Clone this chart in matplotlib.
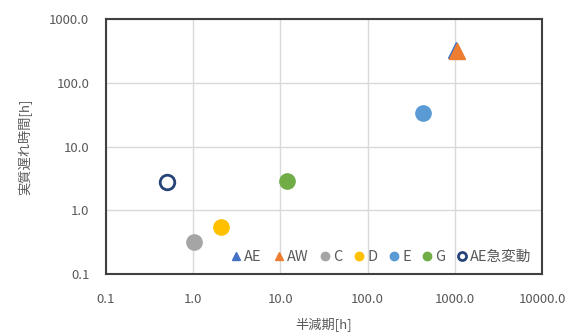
import matplotlib.pyplot as plt
import matplotlib.ticker as mticker
import numpy as np

plt.rcParams['font.family'] = ['Noto Sans CJK JP', 'DejaVu Sans']

# 半減期[h] と 実質遅れ時間[h]
names = ['AE', 'AW', 'C', 'D', 'E', 'G', 'AE急変動']
half_life = [1040.0, 1060.0, 1.02, 2.08, 430.0, 11.9, 0.5]
delay = [330.0, 320.0, 0.32, 0.55, 33.5, 2.9, 2.77]
colors = ['#4472C4', '#ED7D31', '#A5A5A5', '#FFC000', '#5B9BD5', '#70AD47', '#264478']
markers = ['^', '^', 'o', 'o', 'o', 'o', 'o']

fig = plt.figure(figsize=(5.71, 3.36), dpi=100)
ax = fig.add_axes([106/571, 1-274/336, 436/571, 255/336])

for i in range(len(names)):
    if names[i] == 'AE急変動':
        ax.plot(half_life[i], delay[i], marker=markers[i], ms=10.5, mfc='white',
                mec=colors[i], mew=2, ls='none', label=names[i])
    else:
        ax.plot(half_life[i], delay[i], marker=markers[i], ms=11, color=colors[i],
                ls='none', label=names[i])

ax.set_xscale('log')
ax.set_yscale('log')
ax.set_xlim(0.1, 10000)
ax.set_ylim(0.1, 1000)
fmt = mticker.FuncFormatter(lambda v, p: '%.1f' % v)
ax.xaxis.set_major_formatter(fmt)
ax.yaxis.set_major_formatter(fmt)
ax.xaxis.set_minor_locator(mticker.NullLocator())
ax.yaxis.set_minor_locator(mticker.NullLocator())
ax.tick_params(axis='x', length=0, labelsize=9.5, colors='#595959', pad=14)
ax.tick_params(axis='y', length=0, labelsize=9.5, colors='#595959', pad=12)
ax.grid(True, color='#D9D9D9', lw=1)
ax.set_axisbelow(True)
for s in ax.spines.values():
    s.set_color('#404040')
    s.set_linewidth(1.5)

ax.set_xlabel('半減期[h]', fontsize=9.5, color='#595959', labelpad=8)
ax.set_ylabel('実質遅れ時間[h]', fontsize=9.5, color='#595959', labelpad=12)

ax.legend(loc='lower right', ncol=7, frameon=False, fontsize=10.5, markerscale=0.55,
          handlelength=0.6, handletextpad=0.25, columnspacing=0.85,
          borderaxespad=0.3, labelcolor='#595959')

plt.savefig('out.png', dpi=100)
